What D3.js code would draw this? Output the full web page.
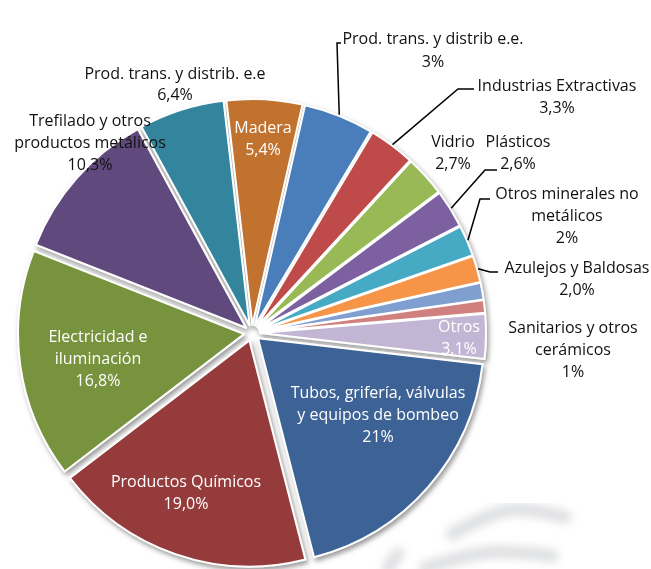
<!DOCTYPE html>
<html>
<head>
<meta charset="utf-8">
<script src="https://cdn.jsdelivr.net/npm/d3@7"></script>
<style>
  body { margin: 0; background: #fff; }
  text { font-family: "Open Sans", "Noto Sans", sans-serif; font-size: 16px; }
</style>
</head>
<body>
<svg id="chart" width="651" height="569"></svg>
<script>
// sectors, clockwise from the 3 o'clock slice
const sectors = [
    'Tubos, grifería, válvulas y equipos de bombeo',
    'Productos Químicos',
    'Electricidad e iluminación',
    'Trefilado y otros productos metálicos',
    'Prod. trans. y distrib. e.e',
    'Madera',
    'Prod. trans. y distrib e.e.',
    'Industrias Extractivas',
    'Vidrio',
    'Plásticos',
    'Otros minerales no metálicos',
    'Azulejos y Baldosas',
    '(sin etiqueta)',
    'Sanitarios y otros cerámicos',
    'Otros'
]
const shares = [19.2, 18.6, 16.4, 11.1, 6.1, 5.4, 5.0, 3.3, 2.9, 2.7, 2.2, 1.9, 1.2, 0.9, 3.2]
const shareText = ['21%', '19,0%', '16,8%', '10,3%', '6,4%', '5,4%', '3%', '3,3%',
    '2,7%', '2,6%', '2%', '2,0%', '', '1%', '3,1%']
const labelLines = [
    ['Tubos, grifería, válvulas', 'y equipos de bombeo'],
    ['Productos Químicos'],
    ['Electricidad e', 'iluminación'],
    ['Trefilado y otros', 'productos metálicos'],
    ['Prod. trans. y distrib. e.e'],
    ['Madera'],
    ['Prod. trans. y distrib e.e.'],
    ['Industrias Extractivas'],
    ['Vidrio'],
    ['Plásticos'],
    ['Otros minerales no', 'metálicos'],
    ['Azulejos y Baldosas'],
    [],
    ['Sanitarios y otros', 'cerámicos'],
    ['Otros']
]
const colours = ['#3c6496', '#953b3a', '#77933c', '#604a7b', '#31859c', '#c1722f',
    '#4a7ebb', '#be4b48', '#98b954', '#7d60a0', '#46aac5', '#f69546',
    '#7f9fd0', '#d0807f', '#c3b6d4']

const W = 651, H = 569
const cx = 252, cy = 333
const radius = 226
const explode = 8
const start = 96.6 * Math.PI / 180

// where each label block sits (first line centre) and its colour
const labelAt = [
    {x: 378, y: 392, fill: '#fff'},
    {x: 186, y: 481, fill: '#fff'},
    {x: 98, y: 336, fill: '#fff'},
    {x: 90, y: 120, fill: '#111'},
    {x: 175, y: 73, fill: '#111', gap: 21},
    {x: 263, y: 127, fill: '#fff'},
    {x: 433, y: 38, fill: '#111', gap: 23},
    {x: 557, y: 85, fill: '#111'},
    {x: 453, y: 141, fill: '#111'},
    {x: 518, y: 141, fill: '#111'},
    {x: 567, y: 193, fill: '#111'},
    {x: 577, y: 267, fill: '#111'},
    null,
    {x: 573, y: 327, fill: '#111'},
    {x: 459, y: 326, fill: '#fff'}
]
// leader lines: elbow near the text, then to the slice edge
const leaders = [
    {i: 6, from: [[341, 43], [337, 43]]},
    {i: 7, from: [[474, 89], [458, 89]]},
    {i: 9, from: [[497, 170], [485, 170]]},
    {i: 10, from: [[490, 199], [480, 199]]},
    {i: 11, from: [[498, 272], [490, 272]]}
]

const svg = d3.select('#chart')
const defs = svg.append('defs')

defs.append('filter')
    .attr('id', 'shadow')
    .attr('x', '-20%').attr('y', '-20%')
    .attr('width', '140%').attr('height', '140%')
    .append('feDropShadow')
    .attr('dx', 2).attr('dy', 3)
    .attr('stdDeviation', 2.5)
    .attr('flood-color', '#555')
    .attr('flood-opacity', 0.6)

defs.append('filter')
    .attr('id', 'soft')
    .append('feGaussianBlur')
    .attr('stdDeviation', 4)

// faint watermark in the background (bottom right)
const mark = svg.append('g')
    .attr('filter', 'url(#soft)')
    .attr('fill', 'none')
    .attr('stroke', '#d4d6d8')
    .attr('stroke-width', 13)
    .attr('stroke-linecap', 'round')
    .attr('opacity', 0.75)
const wline = d3.line().curve(d3.curveCatmullRom)
mark.append('path').attr('d', wline([[452, 534], [510, 510], [565, 517]]))
mark.append('path').attr('d', wline([[425, 568], [490, 552], [552, 556]]))
mark.append('path').attr('d', wline([[388, 568], [398, 554]]))

const pie = d3.pie()
    .sort(null)
    .value(d => d)
    .startAngle(start)
    .endAngle(start + 2 * Math.PI)

const arcs = pie(shares)
const arc = d3.arc().innerRadius(0).outerRadius(radius)
const mid = d => (d.startAngle + d.endAngle) / 2
const shift = d => [explode * Math.sin(mid(d)), -explode * Math.cos(mid(d))]

const slices = svg.append('g')
    .attr('transform', `translate(${cx},${cy})`)
    .attr('filter', 'url(#shadow)')

slices.selectAll('path.slice')
    .data(arcs)
    .join('path')
    .attr('class', 'slice')
    .attr('transform', d => `translate(${shift(d)})`)
    .attr('d', arc)
    .attr('fill', (d, i) => colours[i])
    .attr('stroke', '#fff')
    .attr('stroke-width', 2)
    .attr('stroke-linejoin', 'round')

// leader lines
const edgePoint = d => {
    const rr = radius + explode + 1
    return [cx + rr * Math.sin(mid(d)), cy - rr * Math.cos(mid(d))]
}
svg.append('g')
    .selectAll('polyline')
    .data(leaders)
    .join('polyline')
    .attr('points', d => d.from.concat([edgePoint(arcs[d.i])]).join(' '))
    .attr('fill', 'none')
    .attr('stroke', '#000')
    .attr('stroke-width', 1.5)

// labels
const labels = svg.append('g')
    .selectAll('text')
    .data(arcs.map((a, i) => ({i, pos: labelAt[i]})).filter(d => d.pos))
    .join('text')
    .attr('text-anchor', 'middle')
    .attr('fill', d => d.pos.fill)

labels.selectAll('tspan')
    .data(d => labelLines[d.i].concat([shareText[d.i]])
        .map((t, k) => ({t, k, pos: d.pos})))
    .join('tspan')
    .attr('x', d => d.pos.x)
    .attr('y', d => d.pos.y + d.k * (d.pos.gap || 22))
    .attr('dy', '0.35em')
    .text(d => d.t)
</script>
</body>
</html>
